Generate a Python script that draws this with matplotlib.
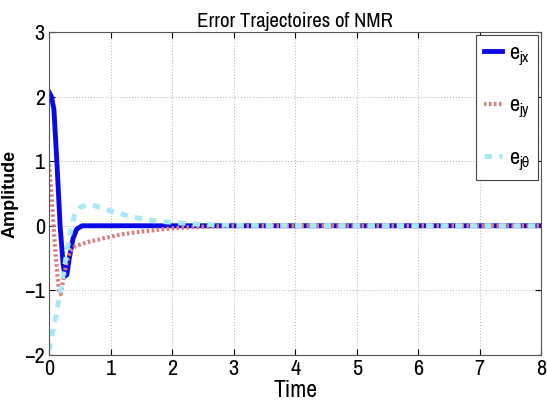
import matplotlib
matplotlib.use("Agg")
import matplotlib.pyplot as plt

plt.rcParams['font.family'] = ['Archivo Narrow', 'Liberation Sans', 'DejaVu Sans']
plt.rcParams['mathtext.fontset'] = 'custom'
plt.rcParams['mathtext.rm'] = 'Archivo Narrow'
plt.rcParams['mathtext.it'] = 'Archivo Narrow'
plt.rcParams['mathtext.fallback'] = 'stixsans'

# e_jx
t_x = [0, 0.04, 0.08, 0.13, 0.18, 0.23, 0.26, 0.29, 0.33, 0.39, 0.45, 0.54, 8]
e_x = [2.07, 2.0, 1.8, 0.95, 0.0, -0.6, -0.78, -0.76, -0.5, -0.2, -0.05, 0.0, 0.0]

# e_jy
t_y = [0, 0.04, 0.08, 0.12, 0.16, 0.19, 0.23, 0.28, 0.34, 0.42, 0.6, 0.9, 1.2, 1.5, 2.0, 2.5, 3.0, 8]
e_y = [0.95, 0.5, -0.1, -0.6, -1.0, -1.06, -0.85, -0.6, -0.4, -0.32, -0.26, -0.19, -0.13, -0.09, -0.04, -0.015, 0.0, 0.0]

# e_jtheta
t_th = [0, 0.05, 0.1, 0.18, 0.24, 0.3, 0.36, 0.42, 0.5, 0.6, 0.7, 0.85, 1.0, 1.3, 1.6, 2.0, 2.5, 3.0, 8]
e_th = [-1.93, -1.7, -1.45, -1.05, -0.7, -0.35, -0.02, 0.18, 0.28, 0.32, 0.32, 0.28, 0.23, 0.15, 0.09, 0.05, 0.02, 0.005, 0.0]

x_ticks = [0, 1, 2, 3, 4, 5, 6, 7, 8]
y_ticks = [-2, -1, 0, 1, 2, 3]
y_labels = ['\u22122', '\u22121', '0', '1', '2', '3']

fig = plt.figure(figsize=(5.47, 4.17), dpi=100)
ax = fig.add_axes([0.0896, 0.149, 0.9, 0.774])

ax.plot(t_x, e_x, color='#0a0ae6', lw=3.5, label=r'$e_{jx}$')
ax.plot(t_y, e_y, color='#e07a7a', lw=3, ls=(0, (0.6, 0.6)), label=r'$e_{jy}$')
ax.plot(t_th, e_th, color='#a6e8f6', lw=3.5, ls=(0, (1.5, 1.5)), label=r'$e_{j\mathrm{\theta}}$')

ax.set_xlim(0, 8)
ax.set_ylim(-2, 3)
ax.set_xticks(x_ticks)
ax.set_yticks(y_ticks)
ax.set_yticklabels(y_labels)
ax.tick_params(direction='in', labelsize=16, length=4, top=True, right=True, pad=3)
ax.grid(True, ls=':', color='#bbbbbb', lw=0.8)
for s in ax.spines.values():
    s.set_color('#555555')

ax.set_title('Error Trajectoires of NMR', fontsize=15, pad=4)
ax.set_xlabel('Time', fontsize=17, labelpad=1)
ax.set_ylabel('Amplitude', fontsize=13, fontweight='bold', family='Liberation Sans', labelpad=4)

leg = ax.legend(loc='upper right', fontsize=16, handlelength=0.8, labelspacing=1.25,
                fancybox=False, framealpha=1, edgecolor='#444444', borderpad=0.35,
                handletextpad=0.3, borderaxespad=0.15)
leg.get_frame().set_linewidth(0.8)

fig.savefig('out.png', dpi=100)
